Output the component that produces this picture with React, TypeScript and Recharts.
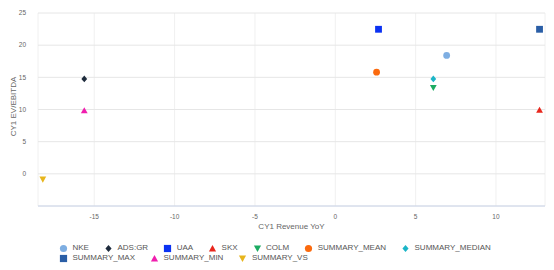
import React from "react";
import {
  ScatterChart,
  Scatter,
  XAxis,
  YAxis,
  CartesianGrid,
} from "recharts";

const SERIES = [
  "NKE",
  "ADS:GR",
  "UAA",
  "SKX",
  "COLM",
  "SUMMARY_MEAN",
  "SUMMARY_MEDIAN",
  "SUMMARY_MAX",
  "SUMMARY_MIN",
  "SUMMARY_VS",
];
const REVENUE_YOY = [6.93, -15.62, 2.69, 12.71, 6.1, 2.57, 6.1, 12.71, -15.62, -18.2];
const EV_EBITDA = [18.4, 14.75, 22.47, 9.9, 13.4, 15.8, 14.75, 22.47, 9.84, -0.85];
const COLORS = [
  "#7eaee2",
  "#1e2b3c",
  "#0b32f2",
  "#e8271d",
  "#1cab62",
  "#fb6a0e",
  "#1bb5c7",
  "#2a5ea6",
  "#f01eae",
  "#e7b51c",
];
const SHAPES = [
  "circle",
  "diamond",
  "square",
  "triangle",
  "triangleDown",
  "circle",
  "diamond",
  "square",
  "triangle",
  "triangleDown",
];
const X_TICKS = [-15, -10, -5, 0, 5, 10];
const Y_TICKS = [-5, 0, 5, 10, 15, 20, 25];

const FONT = "'Liberation Sans', Arial, sans-serif";

function Marker({ cx, cy, kind, color, r = 3.4 }: any) {
  if (cx == null || cy == null) return null;
  switch (kind) {
    case "circle":
      return <circle cx={cx} cy={cy} r={r} fill={color} />;
    case "square":
      return <rect x={cx - r} y={cy - r} width={r * 2} height={r * 2} fill={color} />;
    case "diamond":
      return (
        <polygon
          points={`${cx},${cy - r} ${cx + r * 0.85},${cy} ${cx},${cy + r} ${cx - r * 0.85},${cy}`}
          fill={color}
        />
      );
    case "triangle":
      return (
        <polygon
          points={`${cx},${cy - r} ${cx + r},${cy + r * 0.8} ${cx - r},${cy + r * 0.8}`}
          fill={color}
        />
      );
    case "triangleDown":
      return (
        <polygon
          points={`${cx - r},${cy - r * 0.8} ${cx + r},${cy - r * 0.8} ${cx},${cy + r}`}
          fill={color}
        />
      );
    default:
      return null;
  }
}

const YTitle = ({ viewBox }: any) => {
  const x = viewBox.x + 13;
  const y = viewBox.y + viewBox.height / 2 - 3;
  return (
    <text
      x={x}
      y={y}
      transform={`rotate(-90, ${x}, ${y})`}
      textAnchor="middle"
      dominantBaseline="central"
      fill="#666"
      fontSize={8}
      fontFamily={FONT}
    >
      CY1 EV/EBITDA
    </text>
  );
};

function LegendBox() {
  return (
    <div
      style={{
        position: "absolute",
        left: 59,
        top: 243,
        width: 470,
        display: "flex",
        flexWrap: "wrap",
        fontFamily: FONT,
        fontSize: 8,
        color: "#555",
        lineHeight: "10px",
      }}
    >
      {SERIES.map((name, i) => (
        <div
          key={name}
          style={{ display: "flex", alignItems: "center", marginRight: 15 }}
        >
          <svg width={9} height={9} style={{ marginRight: 4.5 }}>
            <Marker cx={4.5} cy={4.5} kind={SHAPES[i]} color={COLORS[i]} r={3.6} />
          </svg>
          <span>{name}</span>
        </div>
      ))}
    </div>
  );
}

export default function App() {
  return (
    <div style={{ position: "absolute", left: 0, top: 0, width: 554, height: 270, background: "#fff" }}>
      <ScatterChart
        width={554}
        height={270}
        margin={{ top: 13, right: 9, bottom: 34, left: 0 }}
      >
        <CartesianGrid stroke="#f0f0f0" horizontal={false} />
        <CartesianGrid stroke="#e6e6e6" vertical={false} />
        <XAxis
          type="number"
          dataKey="x"
          domain={[-18.5, 13.05]}
          ticks={X_TICKS}
          allowDataOverflow
          height={30}
          axisLine={{ stroke: "#ccd6eb" }}
          tickLine={false}
          tickSize={0}
          tickMargin={8}
          tick={{ fill: "#666", fontSize: 6.5, fontFamily: FONT }}
          label={{
            value: "CY1 Revenue YoY",
            position: "insideBottom",
            offset: 7,
            fill: "#666",
            fontSize: 8,
            fontFamily: FONT,
          }}
        />
        <YAxis
          type="number"
          dataKey="y"
          domain={[-5, 25]}
          ticks={Y_TICKS}
          width={38}
          axisLine={false}
          tickLine={false}
          tickSize={0}
          tickMargin={12}
          tickFormatter={(v: number) => (v === -5 ? "" : String(v))}
          tick={{ fill: "#666", fontSize: 6.5, fontFamily: FONT }}
          label={<YTitle />}
        />
        {SERIES.map((name, i) => (
          <Scatter
            key={name}
            name={name}
            data={[{ x: REVENUE_YOY[i], y: EV_EBITDA[i] }]}
            fill={COLORS[i]}
            isAnimationActive={false}
            shape={(p: any) => <Marker cx={p.cx} cy={p.cy} kind={SHAPES[i]} color={COLORS[i]} />}
          />
        ))}
      </ScatterChart>
      <LegendBox />
    </div>
  );
}
